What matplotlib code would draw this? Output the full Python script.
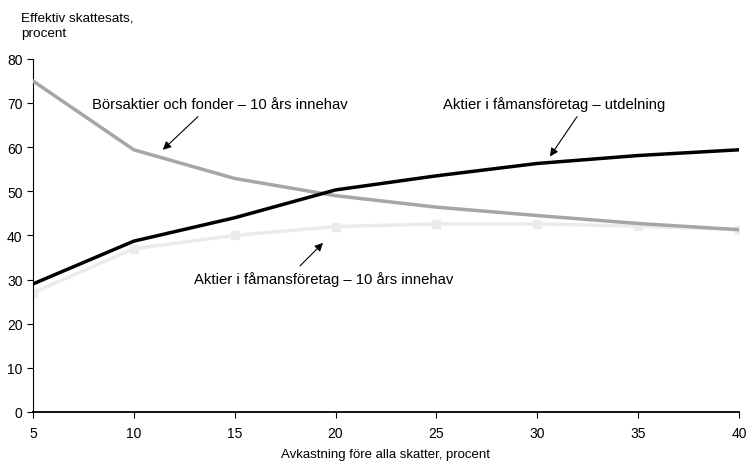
import matplotlib
matplotlib.use("Agg")
import matplotlib.pyplot as plt

plt.rcParams['font.family'] = ['Liberation Sans', 'DejaVu Sans']

avkastning = [5, 10, 15, 20, 25, 30, 35, 40]
borsaktier = [75.0, 59.4, 52.9, 49.0, 46.4, 44.5, 42.7, 41.3]
utdelning = [29.0, 38.7, 44.0, 50.3, 53.5, 56.3, 58.1, 59.4]
famans_10ar = [27.0, 37.0, 40.0, 42.0, 42.6, 42.6, 42.1, 41.3]

fig = plt.figure(figsize=(7.48, 4.64), dpi=100)
ax = fig.add_axes([0.044, 0.110, 0.944, 0.761])

ax.plot(avkastning, famans_10ar, color='#ebebeb', lw=2.5, marker='s', ms=6,
        mfc='#ebebeb', mec='#ebebeb', solid_joinstyle='round', zorder=2)
ax.plot(avkastning, borsaktier, color='#a6a6a6', lw=2.5, solid_joinstyle='round', zorder=3)
ax.plot(avkastning, utdelning, color='black', lw=2.5, solid_joinstyle='round', zorder=4)

ax.set_xlim(5, 40)
ax.set_ylim(0, 80)
ax.set_xticks(avkastning)
ax.set_yticks(range(0, 81, 10))
for s in ['top', 'right']:
    ax.spines[s].set_visible(False)
ax.spines['left'].set_linewidth(0.8)
ax.spines['bottom'].set_linewidth(1.3)
ax.tick_params(axis='both', direction='out', length=4, width=0.8, labelsize=10, colors='black')
ax.tick_params(axis='x', pad=6)

ax.set_xlabel('Avkastning före alla skatter, procent', fontsize=9.5, labelpad=6)
fig.text(0.028, 0.972, 'Effektiv skattesats,\nprocent', fontsize=9.7, va='top', ha='left',
         linespacing=1.3)

# series labels with their pointer arrows
arrow = dict(arrowstyle='-|>', color='black', lw=0.8, mutation_scale=12, shrinkA=0, shrinkB=0)
ax.text(14.27, 69.8, 'Börsaktier och fonder – 10 års innehav', ha='center', va='center', fontsize=10.7)
ax.annotate('', xy=(11.44, 59.4), xytext=(13.18, 66.9), arrowprops=arrow)
ax.text(30.83, 69.8, 'Aktier i fåmansföretag – utdelning', ha='center', va='center', fontsize=10.7)
ax.annotate('', xy=(30.63, 57.9), xytext=(31.97, 66.9), arrowprops=arrow)
ax.text(19.43, 30.2, 'Aktier i fåmansföretag – 10 års innehav', ha='center', va='center', fontsize=10.7)
ax.annotate('', xy=(19.38, 38.3), xytext=(18.24, 33.1), arrowprops=arrow)

fig.savefig('out.png', dpi=100)
